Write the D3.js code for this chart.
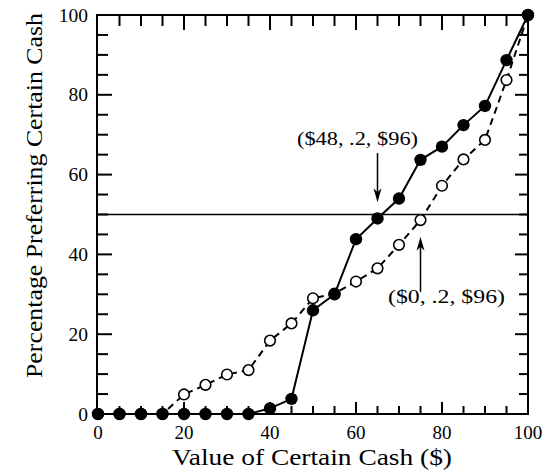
<!DOCTYPE html>
<html>
<head>
<meta charset="utf-8">
<script src="https://cdn.jsdelivr.net/npm/d3@7"></script>
<style>
  html, body { margin: 0; padding: 0; background: #fff; }
  svg { display: block; }
  text { font-family: "Liberation Serif", "Times New Roman", serif; fill: #000; }
</style>
</head>
<body>
<div id="chart"></div>
<script>
// Cash values offered ($) and the percentage preferring the certain cash
const cashValues = [0, 5, 10, 15, 20, 25, 30, 35, 40, 45, 50, 55, 60, 65, 70, 75, 80, 85, 90, 95, 100];
const gambleA = [0, 0, 0, 0, 0, 0, 0, 0, 1.4, 3.8, 26, 30, 43.8, 49, 54, 63.7, 67, 72.4, 77.2, 88.7, 100];   // ($48, .2, $96)
const gambleB = [0, 0, 0, 0, 4.9, 7.3, 9.9, 11, 18.4, 22.7, 29, 30.2, 33.2, 36.5, 42.4, 48.6, 57.2, 63.8, 68.7, 83.7, 100]; // ($0, .2, $96)
const xTickLabels = [0, 20, 40, 60, 80, 100];
const yTickLabels = [0, 20, 40, 60, 80, 100];
const minorTicks = d3.range(5, 100, 5);
const referenceLevel = 50;
const labelA = "($48, .2, $96)";
const labelB = "($0, .2, $96)";

const W = 555, H = 476;
const plotLeft = 97, plotRight = 528, plotTop = 15, plotBottom = 414;

const svg = d3.select("#chart").append("svg")
  .attr("width", W).attr("height", H);

const x = d3.scaleLinear().domain([0, 100]).range([plotLeft + 1, plotRight]);
const y = d3.scaleLinear().domain([0, 100]).range([plotBottom, plotTop]);

const ink = "#000";

// inward ticks on all four sides; multiples of 20 are longer
function tickLen(v) { return v % 20 === 0 ? 15 : 11; }
const g = svg.append("g").attr("stroke", ink).attr("stroke-width", 2);
minorTicks.forEach(v => {
  const L = tickLen(v);
  g.append("line").attr("x1", x(v)).attr("x2", x(v)).attr("y1", plotBottom).attr("y2", plotBottom - L + 3);
  g.append("line").attr("x1", x(v)).attr("x2", x(v)).attr("y1", plotTop).attr("y2", plotTop + L);
  g.append("line").attr("y1", y(v)).attr("y2", y(v)).attr("x1", plotLeft).attr("x2", plotLeft + L);
  g.append("line").attr("y1", y(v)).attr("y2", y(v)).attr("x1", plotRight).attr("x2", plotRight - L + 2);
});

// frame
svg.append("rect")
  .attr("x", plotLeft).attr("y", plotTop)
  .attr("width", plotRight - plotLeft).attr("height", plotBottom - plotTop)
  .attr("fill", "none").attr("stroke", ink).attr("stroke-width", 2);

// tick labels
svg.append("g").selectAll("text").data(xTickLabels).join("text")
  .attr("x", d => x(d)).attr("y", 439)
  .attr("text-anchor", "middle").attr("font-size", 19)
  .text(d => d);
svg.append("g").selectAll("text").data(yTickLabels).join("text")
  .attr("x", 88).attr("y", d => y(d) + 6.5)
  .attr("text-anchor", "end").attr("font-size", 19.5)
  .text(d => d);

// axis titles
svg.append("text")
  .attr("x", 172).attr("y", 465)
  .attr("font-size", 22.5)
  .attr("textLength", 280).attr("lengthAdjust", "spacingAndGlyphs")
  .text("Value of Certain Cash ($)");
svg.append("text")
  .attr("transform", "translate(42,378) rotate(-90)")
  .attr("font-size", 24)
  .attr("textLength", 365).attr("lengthAdjust", "spacingAndGlyphs")
  .text("Percentage Preferring Certain Cash");

// 50% reference line
svg.append("line")
  .attr("x1", plotLeft).attr("x2", plotRight)
  .attr("y1", y(referenceLevel)).attr("y2", y(referenceLevel))
  .attr("stroke", ink).attr("stroke-width", 1.6);

const line = d3.line().x(d => x(d[0])).y(d => y(d[1]));
const ptsA = cashValues.map((c, i) => [c, gambleA[i]]);
const ptsB = cashValues.map((c, i) => [c, gambleB[i]]);

// ($0, .2, $96): dashed line, open circles
svg.append("path").datum(ptsB).attr("d", line)
  .attr("fill", "none").attr("stroke", ink).attr("stroke-width", 2)
  .attr("stroke-dasharray", "7,5");
svg.append("g").selectAll("circle").data(ptsB).join("circle")
  .attr("cx", d => x(d[0])).attr("cy", d => y(d[1])).attr("r", 5.3)
  .attr("fill", "#fff").attr("stroke", ink).attr("stroke-width", 1.6);

// ($48, .2, $96): solid line, filled circles
svg.append("path").datum(ptsA).attr("d", line)
  .attr("fill", "none").attr("stroke", ink).attr("stroke-width", 2);
svg.append("g").selectAll("circle").data(ptsA).join("circle")
  .attr("cx", d => x(d[0])).attr("cy", d => y(d[1])).attr("r", 6.2)
  .attr("fill", ink);

// annotation arrows
function arrow(xv, yFrom, yTo) {
  const x0 = x(xv), y0 = y(yFrom), y1 = y(yTo);
  const dir = Math.sign(y1 - y0);
  svg.append("line").attr("x1", x0).attr("x2", x0).attr("y1", y0).attr("y2", y1 - dir * 8)
    .attr("stroke", ink).attr("stroke-width", 1.5);
  svg.append("path")
    .attr("d", `M${x0},${y1} L${x0 - 4},${y1 - dir * 14} L${x0},${y1 - dir * 10} L${x0 + 4},${y1 - dir * 14} Z`)
    .attr("fill", ink);
}
arrow(65, 65.4, 53.1);
arrow(75, 30.6, 44.4);

svg.append("text").attr("x", 297).attr("y", 145)
  .attr("font-size", 18)
  .attr("textLength", 121).attr("lengthAdjust", "spacingAndGlyphs").text(labelA);
svg.append("text").attr("x", 388).attr("y", 303)
  .attr("font-size", 18)
  .attr("textLength", 117).attr("lengthAdjust", "spacingAndGlyphs").text(labelB);
</script>
</body>
</html>
